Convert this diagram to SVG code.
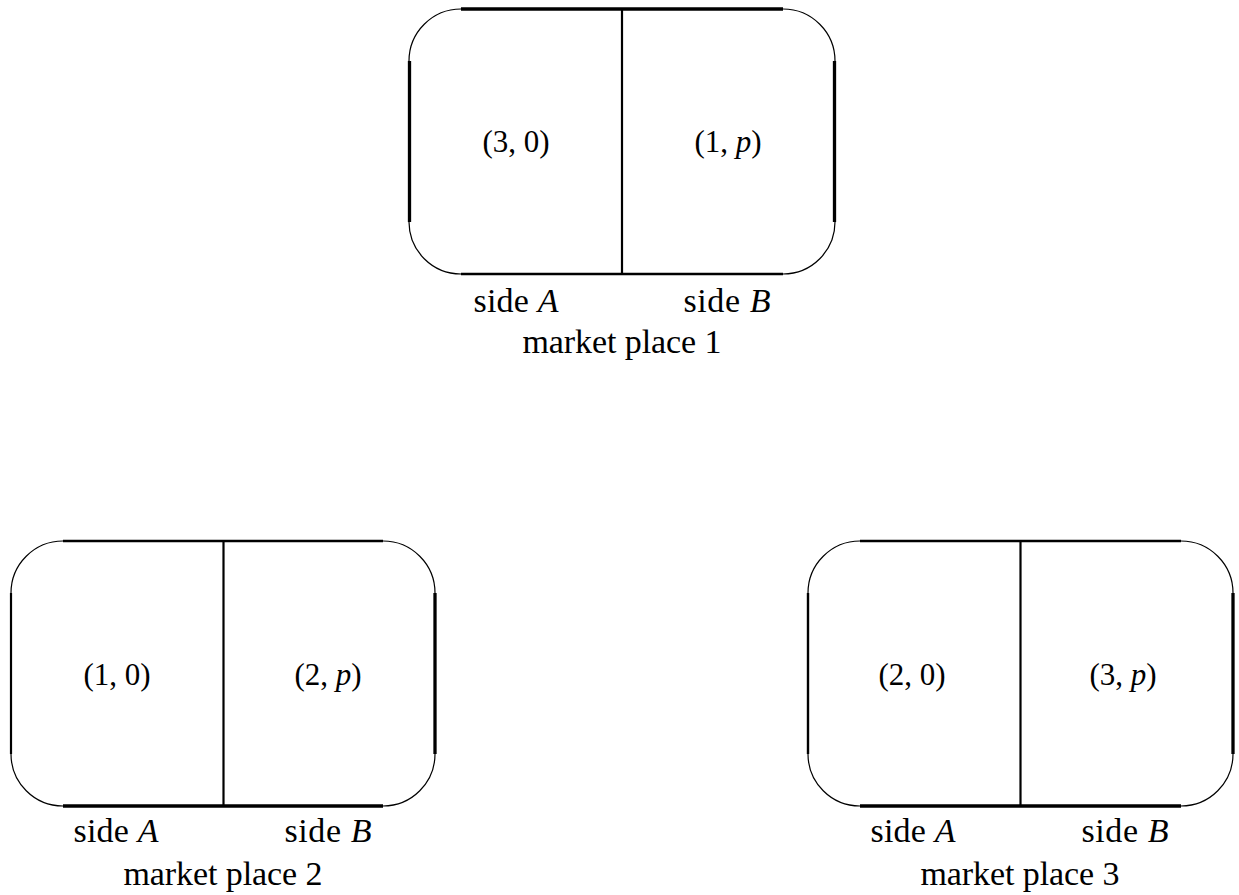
<svg xmlns="http://www.w3.org/2000/svg" width="1239" height="895" viewBox="0 0 1239 895">
<style>
text{font-family:"Liberation Serif","Times New Roman","DejaVu Serif",serif;font-size:31px;fill:#000;text-anchor:middle}
.lb{font-size:34px}
.it{font-style:italic}
.arc{fill:none;stroke:#000;stroke-width:1.2}
.ln{stroke:#000;fill:none}
.t{stroke-width:3.3}
.m{stroke-width:2.4}
.d{stroke-width:2.2}
</style>
<rect width="1239" height="895" fill="#fff"/>
<g id="market1">
<path class="arc" d="M409 61 A52 52 0 0 1 461 9 M783 9 A52 52 0 0 1 835 61 M835 222 A52 52 0 0 1 783 274 M461 274 A52 52 0 0 1 409 222"/>
<line class="ln t" x1="461" y1="9" x2="783" y2="9"/>
<line class="ln m" x1="461" y1="274" x2="783" y2="274"/>
<line class="ln t" x1="409.5" y1="61" x2="409.5" y2="222"/>
<line class="ln t" x1="834.5" y1="61" x2="834.5" y2="222"/>
<line class="ln d" x1="622" y1="9" x2="622" y2="274"/>
<text x="516" y="152">(3, 0)</text>
<text x="728" y="152">(1, <tspan class="it">p</tspan>)</text>
<text class="lb" x="516" y="312" textLength="85">side <tspan class="it">A</tspan></text>
<text class="lb" x="727" y="312" textLength="87">side <tspan class="it">B</tspan></text>
<text class="lb" x="622" y="353" textLength="199">market place 1</text>
</g>
<g id="market2">
<path class="arc" d="M11 593 A52 52 0 0 1 63 541 M383 541 A52 52 0 0 1 435 593 M435 754 A52 52 0 0 1 383 806 M63 806 A52 52 0 0 1 11 754"/>
<line class="ln m" x1="63" y1="541" x2="383" y2="541"/>
<line class="ln t" x1="63" y1="806" x2="383" y2="806"/>
<line class="ln d" x1="11" y1="593" x2="11" y2="754"/>
<line class="ln t" x1="435" y1="593" x2="435" y2="754"/>
<line class="ln d" x1="223.5" y1="541" x2="223.5" y2="806"/>
<text x="117" y="685">(1, 0)</text>
<text x="328" y="685">(2, <tspan class="it">p</tspan>)</text>
<text class="lb" x="116" y="842" textLength="85">side <tspan class="it">A</tspan></text>
<text class="lb" x="328" y="842" textLength="87">side <tspan class="it">B</tspan></text>
<text class="lb" x="223" y="885" textLength="199">market place 2</text>
</g>
<g id="market3">
<path class="arc" d="M808 593 A52 52 0 0 1 860 541 M1181 541 A52 52 0 0 1 1233 593 M1233 754 A52 52 0 0 1 1181 806 M860 806 A52 52 0 0 1 808 754"/>
<line class="ln m" x1="860" y1="541" x2="1181" y2="541"/>
<line class="ln t" x1="860" y1="806" x2="1181" y2="806"/>
<line class="ln m" x1="808" y1="593" x2="808" y2="754"/>
<line class="ln t" x1="1233" y1="593" x2="1233" y2="754"/>
<line class="ln d" x1="1020.5" y1="541" x2="1020.5" y2="806"/>
<text x="912" y="685">(2, 0)</text>
<text x="1123" y="685">(3, <tspan class="it">p</tspan>)</text>
<text class="lb" x="913" y="842" textLength="85">side <tspan class="it">A</tspan></text>
<text class="lb" x="1125" y="842" textLength="87">side <tspan class="it">B</tspan></text>
<text class="lb" x="1020" y="885" textLength="199">market place 3</text>
</g>
</svg>
